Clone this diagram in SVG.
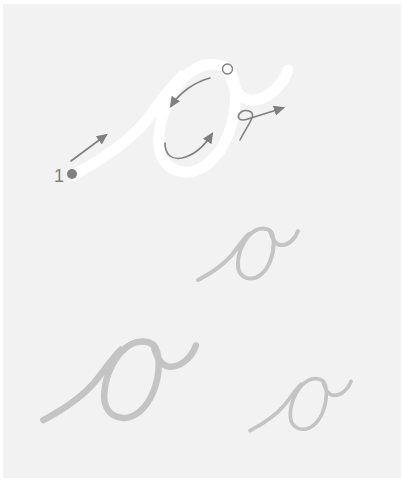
<svg xmlns="http://www.w3.org/2000/svg" xmlns:xlink="http://www.w3.org/1999/xlink" width="403" height="481" viewBox="0 0 403 481">
<style>
.letter{fill:none;stroke-linecap:round;stroke-linejoin:round}
.main{stroke:#ffffff;stroke-width:11}
.ghost{stroke:#c4c4c4}
.arr{fill:none;stroke:#808080;stroke-width:1.6;stroke-linecap:round;marker-end:url(#ah)}
</style>
<defs>
<marker id="ah" viewBox="0 0 10 10" refX="8" refY="5" markerWidth="7" markerHeight="7" markerUnits="strokeWidth" orient="auto">
<path d="M0,0.5 L10,5 L0,9.5 Z" fill="#808080"/>
</marker>
<path id="glyph" vector-effect="non-scaling-stroke" d="M73,175 C100,161 125,145 145,122 C158,106 168,90 182,76 M228,69 C238,80 238,110 228,135 C218,160 200,173 185,172 C165,171 157,155 159,135 C161,110 175,80 197,68 C207,63 220,63 228,69 C232,85 238,100 252,100 C268,100 282,86 288,70"/>
</defs>
<rect x="0" y="0" width="403" height="481" fill="#ffffff"/>
<rect x="3" y="4" width="398" height="474" fill="#f2f2f2"/>
<g id="letter-main">
<use xlink:href="#glyph" href="#glyph" class="letter main"/>
</g>
<g id="connectors">
<path class="arr" d="M71,161 L106,135"/>
<path class="arr" d="M210,78 C195,82 180,92 171,106"/>
<path class="arr" d="M165,143 C165,155 172,160 182,158 C195,155 205,145 212,134"/>
<path class="arr" d="M240,140 C244,132 249,125 252,118 C254,113 250,110 245,110.5 C240,111 237,116 239,118.5 C241,121 246,120 251,118 L283,108"/>
</g>
<g id="start-point">
<circle cx="72" cy="174" r="5" fill="#808080"/>
<text x="54" y="182" font-family="'Liberation Sans', Arial, sans-serif" font-size="18" fill="#808080">1</text>
</g>
<g id="lift-point">
<circle cx="227.5" cy="69" r="5" fill="#ffffff" stroke="#808080" stroke-width="1.4"/>
</g>
<g id="letter-copy-1">
<use xlink:href="#glyph" href="#glyph" class="letter ghost" style="stroke-width:4" transform="translate(164.1,198.6) scale(0.465)"/>
</g>
<g id="letter-copy-2">
<use xlink:href="#glyph" href="#glyph" class="letter ghost" style="stroke-width:6.5" transform="translate(-8.5,295.8) scale(0.71)"/>
</g>
<g id="letter-copy-3">
<use xlink:href="#glyph" href="#glyph" class="letter ghost" style="stroke-width:3.6" transform="translate(215.7,348.4) scale(0.47)"/>
</g>
</svg>
